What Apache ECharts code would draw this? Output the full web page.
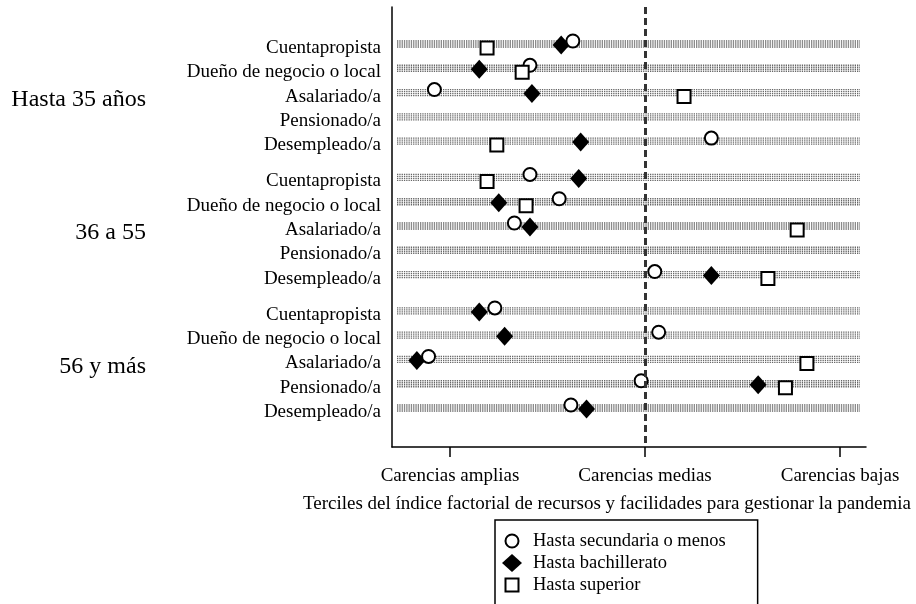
<!DOCTYPE html>
<html>
<head>
<meta charset="utf-8">
<script src="https://cdn.jsdelivr.net/npm/echarts@6/dist/echarts.min.js"></script>
<style>
html,body{margin:0;padding:0;background:#fff;}
#chart{width:916px;height:604px;}
</style>
</head>
<body>
<div id="chart"></div>
<script>
// ---- data ----
const rowNames = ['Cuentapropista', 'Dueño de negocio o local', 'Asalariado/a', 'Pensionado/a', 'Desempleado/a'];
const groupNames = ['Hasta 35 años', '36 a 55', '56 y más'];
const tickLabels = ['Carencias amplias', 'Carencias medias', 'Carencias bajas'];
const tickValues = [1, 2, 3];
const seriesNames = ['Hasta secundaria o menos', 'Hasta bachillerato', 'Hasta superior'];
// values per row, groups in order (Hasta 35 años, 36 a 55, 56 y más), rows in rowNames order
const secundaria   = [1.63, 1.41, 0.92, null, 2.34,   1.41, 1.56, 1.33, null, 2.05,   1.23, 2.07, 0.89, 1.98, 1.62];
const bachillerato = [1.57, 1.15, 1.42, null, 1.67,   1.66, 1.25, 1.41, null, 2.34,   1.15, 1.28, 0.83, 2.58, 1.70];
const superior     = [1.19, 1.37, 2.20, null, 1.24,   1.19, 1.39, 2.78, null, 2.63,   null, null, 2.83, 2.72, null];
const axisTitle = 'Terciles del índice factorial de recursos y facilidades para gestionar la pandemia';

// ---- layout helpers ----
const FONT = '"Liberation Serif", "Times New Roman", serif';
const GROUP_STEP = 5.5;
const positions = [];
const labelOf = {};
groupNames.forEach((g, gi) => {
  rowNames.forEach((r, ri) => {
    const p = gi * GROUP_STEP + ri;
    positions.push(p);
    labelOf[p.toFixed(2)] = r;
  });
});
const groupPos = groupNames.map((g, gi) => gi * GROUP_STEP + 2);
const groupLabelOf = {};
groupPos.forEach((p, i) => groupLabelOf[p.toFixed(2)] = groupNames[i]);
const tickLabelOf = {};
tickValues.forEach((v, i) => tickLabelOf[v.toFixed(2)] = tickLabels[i]);

function pts(arr) {
  const out = [];
  arr.forEach((v, i) => { if (v !== null) out.push([v, positions[i]]); });
  return out;
}

// legend icons (20x18 box)
const ICON_CIRCLE = 'path://M0,0 M20,18 M16.5,9 A6.5,6.5 0 1 1 3.5,9 A6.5,6.5 0 1 1 16.5,9 Z';
const ICON_DIAMOND = 'path://M10,0 L20,9 L10,18 L0,9 Z';
const ICON_SQUARE = 'path://M0,0 M20,18 M3.5,2.5 L16.5,2.5 L16.5,15.5 L3.5,15.5 Z';

const chart = echarts.init(document.getElementById('chart'), null, {renderer: 'canvas'});
const yMin = -1.525, yMax = 16.607;

const option = {
  animation: false,
  backgroundColor: '#fff',
  grid: {left: 392, right: 50, top: 7, bottom: 157, containLabel: false},
  legend: {
    orient: 'vertical',
    left: 495, top: 520, height: 140,
    itemWidth: 20, itemHeight: 18, itemGap: 0,
    padding: [10, 32, 40, 6],
    borderColor: '#000', borderWidth: 1.5,
    data: [
      {name: seriesNames[0], icon: ICON_CIRCLE},
      {name: seriesNames[1], icon: ICON_DIAMOND},
      {name: seriesNames[2], icon: ICON_SQUARE}
    ],
    textStyle: {fontFamily: FONT, fontSize: 18.5, color: '#000', lineHeight: 22, padding: [0, 0, 0, 6]}
  },
  xAxis: {
    type: 'value', min: 0.7026, max: 3.133,
    splitLine: {show: false},
    axisLine: {show: true, onZero: false, lineStyle: {color: '#000', width: 1.5}},
    axisTick: {show: true, customValues: tickValues, length: 10, lineStyle: {color: '#000', width: 1.5}},
    axisLabel: {
      customValues: tickValues, margin: 20,
      fontFamily: FONT, fontSize: 19, color: '#000',
      formatter: v => tickLabelOf[Number(v).toFixed(2)] || ''
    },
    name: axisTitle, nameLocation: 'middle', nameGap: 48,
    nameTextStyle: {fontFamily: FONT, fontSize: 19, color: '#000', padding: [0, 44, 0, 0]}
  },
  yAxis: [{
    type: 'value', inverse: true, min: yMin, max: yMax,
    splitLine: {show: false},
    axisLine: {show: true, onZero: false, lineStyle: {color: '#000', width: 1.5}},
    axisTick: {show: false},
    axisLabel: {
      customValues: positions, margin: 11,
      fontFamily: FONT, fontSize: 19, color: '#000',
      verticalAlign: 'top', lineHeight: 8,
      formatter: v => labelOf[Number(v).toFixed(2)] || ''
    }
  }, {
    type: 'value', inverse: true, min: yMin, max: yMax, position: 'left',
    splitLine: {show: false},
    axisLine: {show: false}, axisTick: {show: false},
    axisLabel: {
      customValues: groupPos, margin: 246,
      fontFamily: FONT, fontSize: 24, color: '#000',
      verticalAlign: 'top', lineHeight: 14,
      formatter: v => groupLabelOf[Number(v).toFixed(2)] || ''
    }
  }],
  series: [
    {
      type: 'custom', z: 1, silent: true,
      data: positions.map(p => [2, p]),
      encode: {x: 0, y: 1},
      renderItem: function (params, api) {
        const cs = params.coordSys;
        const y = api.coord([api.value(0), api.value(1)])[1];
        const x1 = cs.x + 5, x2 = cs.x + cs.width - 6;
        const children = [-3, -1, 1, 3].map(k => ({
          type: 'line',
          shape: {x1: x1, y1: y + k, x2: x2, y2: y + k},
          style: {stroke: '#666', lineWidth: 1.3, lineDash: [1.3, 1.0]}
        }));
        return {type: 'group', children: children};
      }
    },
    {
      type: 'scatter', z: 2, silent: true, data: [],
      markLine: {
        silent: true, symbol: ['none', 'none'], label: {show: false},
        lineStyle: {color: '#333', width: 3, type: [7, 4]},
        data: [{xAxis: tickValues[1]}]
      }
    },
    {
      name: seriesNames[1], type: 'scatter', z: 3,
      symbol: 'diamond', symbolSize: [17, 19], symbolOffset: [0, 1],
      itemStyle: {color: '#000', opacity: 1},
      data: pts(bachillerato)
    },
    {
      name: seriesNames[0], type: 'scatter', z: 4,
      symbol: 'circle', symbolSize: 13, symbolOffset: [0, -3],
      itemStyle: {color: '#fff', borderColor: '#000', borderWidth: 2, opacity: 1},
      data: pts(secundaria)
    },
    {
      name: seriesNames[2], type: 'scatter', z: 5,
      symbol: 'rect', symbolSize: 13, symbolOffset: [0, 4],
      itemStyle: {color: '#fff', borderColor: '#000', borderWidth: 2, opacity: 1},
      data: pts(superior)
    }
  ]
};
chart.setOption(option);
</script>
</body>
</html>
